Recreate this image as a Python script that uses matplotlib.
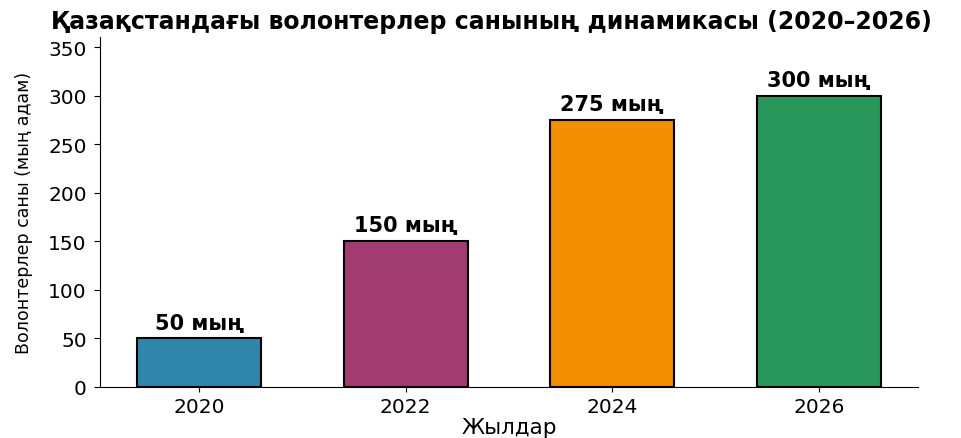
import matplotlib
matplotlib.use("Agg")
import matplotlib.pyplot as plt

years = ["2020", "2022", "2024", "2026"]
volunteers = [50, 150, 275, 300]
labels = ["50 мың", "150 мың", "275 мың", "300 мың"]
colors = ["#2E86AB", "#A23B72", "#F18F01", "#29965C"]

plt.rcParams['font.family'] = ['DejaVu Sans']

fig = plt.figure(figsize=(9.62, 4.39), dpi=100)
ax = fig.add_axes([100/962, 51/439, 818/962, (388-38.3)/439])

bars = ax.bar(years, volunteers, width=0.6, color=colors,
              edgecolor='black', linewidth=1.5)

for bar, lab in zip(bars, labels):
    ax.text(bar.get_x() + bar.get_width()/2, bar.get_height() + 6, lab,
            ha='center', va='bottom', fontsize=15, fontweight='bold')

ax.set_ylim(0, 360)
ax.set_xlabel('Жылдар', fontsize=15.5, labelpad=1)
ax.set_ylabel('Волонтерлер саны (мың адам)', fontsize=12.5, labelpad=11)
ax.tick_params(axis='both', labelsize=14.5)
ax.tick_params(axis='y', length=4.5, pad=5)
ax.spines['top'].set_visible(False)
ax.spines['right'].set_visible(False)

fig.text(491/962, 1 - 22/439, 'Қазақстандағы волонтерлер санының динамикасы (2020–2026)',
         ha='center', va='center', fontsize=17, fontweight='bold')

fig.savefig('out.png', dpi=100)
